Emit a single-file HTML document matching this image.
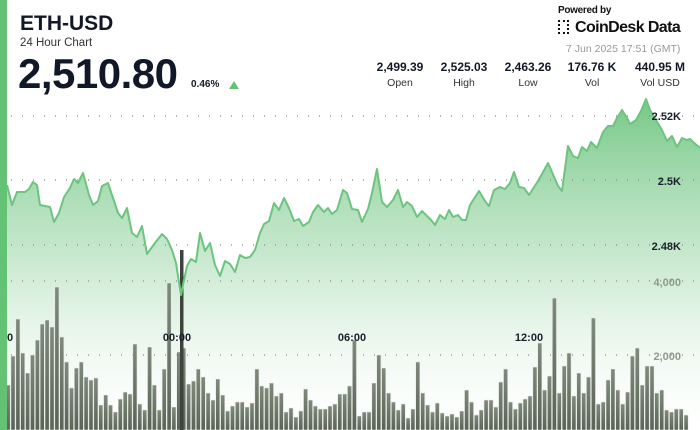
<!DOCTYPE html>
<html><head><meta charset="utf-8"><style>
html,body{margin:0;padding:0;background:#fff;}
body{width:700px;height:430px;overflow:hidden;position:relative;font-family:"Liberation Sans",sans-serif;}
.t{position:absolute;white-space:nowrap;}
</style></head><body>
<svg width="700" height="430" style="position:absolute;left:0;top:0">
<defs>
<linearGradient id="ag" gradientUnits="userSpaceOnUse" x1="0" y1="95" x2="0" y2="430">
<stop offset="0" stop-color="#6cc47f" stop-opacity="0.95"/>
<stop offset="0.5" stop-color="#a8dbb2" stop-opacity="0.6"/>
<stop offset="1" stop-color="#ffffff" stop-opacity="0.2"/>
</linearGradient>
<linearGradient id="bg" x1="0" y1="0" x2="0" y2="1">
<stop offset="0" stop-color="#7e8a7b"/>
<stop offset="1" stop-color="#5b6357"/>
</linearGradient>
</defs>
<path id="area" fill="url(#ag)" stroke="none"/>
<g id="grid" stroke="#888" stroke-width="1.2" stroke-dasharray="1 10" >
<line x1="11" y1="116" x2="700" y2="116"/>
<line x1="11" y1="180" x2="700" y2="180"/>
<line x1="11" y1="245" x2="700" y2="245"/>
<line x1="11" y1="281" x2="700" y2="281"/>
<line x1="11" y1="355" x2="700" y2="355"/>
</g>
<g id="bars" fill="url(#bg)" stroke="#e8ece6" stroke-width="0.6"></g>
<rect x="180" y="250" width="3.5" height="180" fill="#3e433c"/>
<polyline id="line" fill="none" stroke="#6cc47f" stroke-width="2" stroke-linejoin="round"/>
<rect x="0" y="0" width="7" height="430" fill="#64c275"/>
<g font-family="Liberation Sans,sans-serif" font-weight="bold" font-size="11" fill="#1a1f2a" text-anchor="end">
<text x="681" y="120">2.52K</text>
<text x="681" y="185">2.5K</text>
<text x="681" y="250">2.48K</text>
</g>
<g font-family="Liberation Sans,sans-serif" font-weight="bold" font-size="11" fill="#8f9a8b" text-anchor="end">
<text x="681" y="286">4,000</text>
<text x="681" y="360">2,000</text>
</g>
<g font-family="Liberation Sans,sans-serif" font-weight="bold" font-size="11" fill="#1a1f2a" text-anchor="middle">
<text x="10" y="341">0</text>
<text x="177" y="341">00:00</text>
<text x="352" y="341">06:00</text>
<text x="529" y="341">12:00</text>
</g>
<polygon points="229,89 239,89 234,81" fill="#64c275"/>
</svg>
<div class="t" style="left:20px;top:12px;font-size:21px;font-weight:bold;color:#111827">ETH-USD</div>
<div class="t" style="left:20px;top:37px;font-size:11.5px;color:#333">24 Hour Chart</div>
<div class="t" style="left:18px;top:50px;font-size:42px;font-weight:bold;color:#111827;letter-spacing:-0.5px">2,510.80</div>
<div class="t" style="left:191px;top:79px;font-size:10px;font-weight:bold;color:#111827">0.46%</div>
<div class="t" style="left:558px;top:5px;font-size:10px;font-weight:bold;color:#111;letter-spacing:-0.3px">Powered by</div>
<div class="t" style="left:558px;top:20px;width:11px;height:14px;border:2.5px dotted #111;box-sizing:border-box"></div>
<div class="t" style="left:575px;top:19px;font-size:16px;font-weight:bold;color:#111;letter-spacing:-0.6px">CoinDesk Data</div>
<div class="t" style="left:566px;top:43px;font-size:10.5px;color:#999">7 Jun 2025 17:51 (GMT)</div>
<div class="t" style="left:372px;top:60px;width:320px;font-size:12px;">
<div style="display:flex;justify-content:space-between;text-align:center">
<div style="width:56px"><div style="font-weight:bold;color:#111827">2,499.39</div><div style="font-size:10.5px;color:#333;margin-top:3px">Open</div></div>
<div style="width:56px"><div style="font-weight:bold;color:#111827">2,525.03</div><div style="font-size:10.5px;color:#333;margin-top:3px">High</div></div>
<div style="width:56px"><div style="font-weight:bold;color:#111827">2,463.26</div><div style="font-size:10.5px;color:#333;margin-top:3px">Low</div></div>
<div style="width:56px"><div style="font-weight:bold;color:#111827">176.76 K</div><div style="font-size:10.5px;color:#333;margin-top:3px">Vol</div></div>
<div style="width:64px"><div style="font-weight:bold;color:#111827">440.95 M</div><div style="font-size:10.5px;color:#333;margin-top:3px">Vol USD</div></div>
</div></div>
<script>
var pts=[[7,185],[12,205],[17,192],[25,192],[29,189],[33,182],[37,185],[40,205],[50,207],[54,222],[59,213],[64,197],[70,188],[74,179],[78,183],[83,173],[89,195],[93,205],[98,201],[102,186],[108,183],[114,201],[118,213],[122,218],[127,208],[132,233],[137,237],[142,226],[147,254],[155,243],[162,234],[167,239],[172,250],[176,263],[181,295],[183,285],[187,266],[191,259],[196,262],[200,233],[205,251],[210,243],[215,265],[220,276],[225,261],[230,264],[235,272],[240,255],[245,258],[250,257],[255,250],[260,233],[264,224],[269,221],[274,203],[279,210],[284,198],[289,208],[294,221],[299,219],[303,226],[309,222],[313,212],[318,205],[324,212],[328,208],[332,214],[337,210],[343,190],[347,193],[352,209],[358,210],[362,222],[368,209],[372,193],[377,169],[382,202],[387,207],[393,200],[398,190],[403,207],[407,202],[412,206],[417,217],[422,211],[426,215],[431,220],[435,225],[440,215],[445,219],[449,210],[453,217],[458,215],[462,220],[466,220],[470,205],[479,191],[485,201],[489,206],[494,190],[500,187],[505,189],[510,183],[514,172],[519,187],[524,188],[529,195],[538,181],[542,174],[548,163],[552,172],[558,186],[562,191],[568,146],[573,156],[578,158],[582,147],[587,151],[591,142],[597,148],[603,132],[608,126],[613,126],[617,118],[622,110],[627,118],[630,124],[636,120],[641,111],[646,99],[650,110],[656,120],[662,130],[667,141],[672,136],[677,147],[682,138],[687,140],[690,139],[693,142],[700,148]];
var s=pts.map(p=>p.join(',')).join(' ');
document.getElementById('line').setAttribute('points',s);
document.getElementById('area').setAttribute('d','M'+pts.map(p=>p.join(',')).join(' L')+' L700,430 L7,430 Z');
var tops=[385,356,319,353,373,355,340,324,320,327,287,337,362,388,368,362,377,380,378,405,395,405,412,399,392,394,344,404,410,347,385,410,369,283,407,352,348,384,381,369,377,393,400,379,395,411,406,402,402,407,403,369,386,388,383,396,393,412,408,417,411,389,400,406,409,409,406,404,394,394,386,340,416,412,412,383,355,368,393,402,410,404,418,409,362,393,405,412,403,413,416,414,417,411,390,402,415,410,400,400,407,382,369,402,409,403,399,396,367,343,390,376,298,393,366,353,396,373,393,377,318,404,402,380,369,390,404,392,356,348,385,366,366,393,390,410,412,409,409,415];
var g=document.getElementById('bars'),h='';
var step=(686-8)/(tops.length-1);
tops.forEach(function(t,i){var x=8+i*step;h+='<rect x="'+(x-2).toFixed(1)+'" y="'+t+'" width="4.2" height="'+(430-t)+'"/>';});
g.innerHTML=h;
</script>
</body></html>
